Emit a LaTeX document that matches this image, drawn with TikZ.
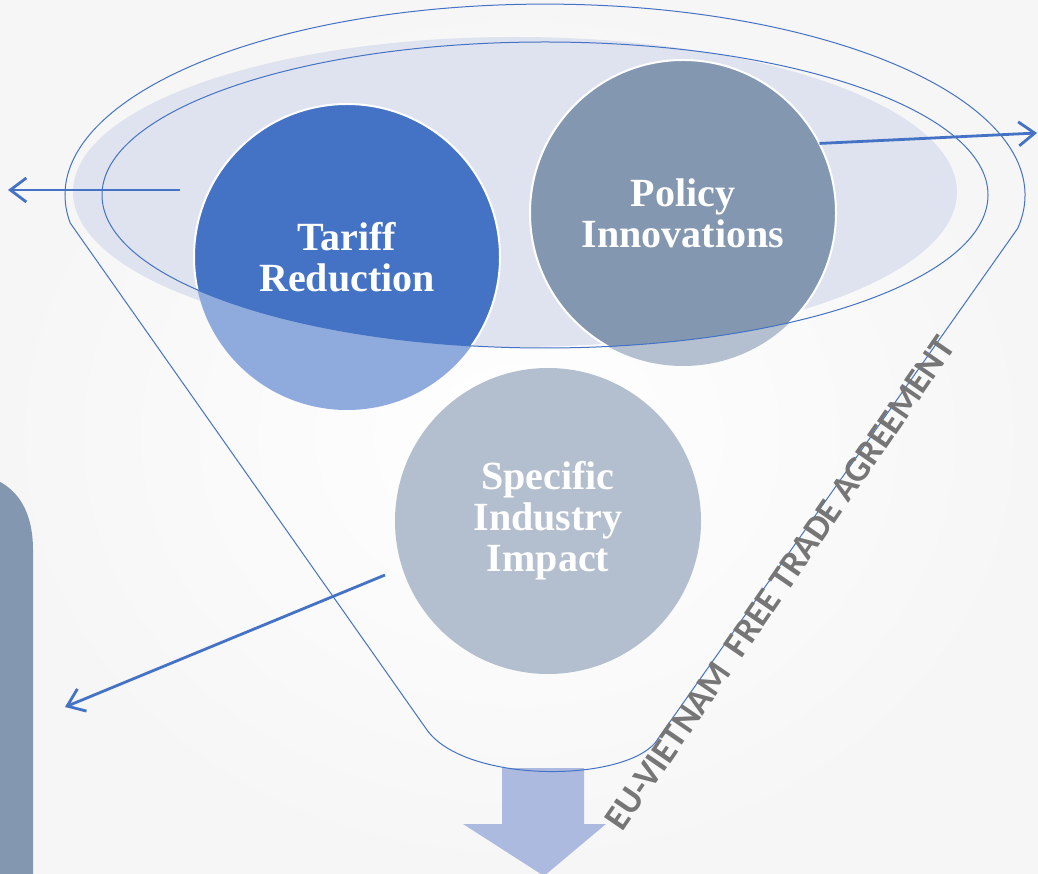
\documentclass[tikz,border=0pt]{standalone}
\usepackage{fontspec}
\setmainfont{Liberation Serif}
\newfontfamily\bannerfont{Carlito}
\usetikzlibrary{positioning}
\usetikzlibrary{arrows.meta}
\definecolor{funnelblue}{RGB}{68,114,196}
\definecolor{tariffdark}{RGB}{68,114,196}
\definecolor{tarifflight}{RGB}{143,170,220}
\definecolor{policydark}{RGB}{132,151,176}
\definecolor{policylight}{RGB}{180,192,207}
\definecolor{impactfill}{RGB}{179,191,206}
\definecolor{rimfill}{RGB}{223,227,239}
\definecolor{chutefill}{RGB}{173,186,223}
\definecolor{sidefill}{RGB}{132,151,176}
\definecolor{bannergray}{RGB}{118,118,118}

\begin{document}
\begin{tikzpicture}[x=1pt,y=1pt,
  stage/.style={circle,minimum size=306pt,inner sep=0pt,text=white,align=center,
    font=\fontsize{40}{41}\selectfont\bfseries},
  flow/.style={draw=funnelblue,line width=2.8pt,-{Straight Barb[length=16pt,width=24pt]}}]
\useasboundingbox (0,0) rectangle (1038,873);
\shade[inner color=white,outer color=gray!7] (0,0) rectangle (1038,873);

% rim of the funnel
\fill[rimfill] (515,681) ellipse (442 and 155);

% circles, lighter below the rim
\node[stage,fill=tarifflight] (tariff) at (347,616) {};
\node[stage,fill=policylight] (policy) at (683,660) {};
\node[stage,fill=impactfill] (impact) at (548,352) {Specific\\Industry\\Impact};
\begin{scope}
\clip (545,678) ellipse (443 and 153);
\fill[tariffdark,draw=white,line width=2pt] (tariff.center) circle (153);
\fill[policydark,draw=white,line width=2pt] (policy.center) circle (153);
\end{scope}
\node[stage] at (tariff.center) {Tariff\\Reduction};
\node[stage] at (policy.center) {Policy\\Innovations};

% chute below the funnel
\fill[chutefill] (502,105) -- (584,105) -- (584,49) -- (606,49) -- (544,-3) -- (463,49) -- (502,49) -- cycle;

% outlines
\draw[funnelblue,line width=1pt] (545,678) ellipse (443 and 153);
\draw[funnelblue,line width=1pt] (70.2,650) arc[start angle=188.4,end angle=-10,x radius=480,y radius=191]
  -- (655,130) .. controls (620,90) and (465,90) .. (427,143) -- cycle;

% side panel
\fill[sidefill] (-40,-10) -- (-40,400) .. controls (10,400) and (33,370) .. (33,323) -- (33,-10) -- cycle;

% arrows
\coordinate (tariffIn) at (180,683);
\coordinate (tariffOut) at (8,683);
\coordinate (policyOut) at (1037,740);
\coordinate (impactIn) at (385,298);
\coordinate (impactOut) at (65,166);
\draw[flow] (tariffIn) -- (tariffOut);
\draw[flow] (policy.27) -- (policyOut);
\draw[flow] (impactIn) -- (impactOut);

\node[rotate=55.5,text=bannergray,font=\bannerfont\bfseries\fontsize{36}{36}\selectfont] (banner) at (780,290) {EU-VIETNAM\ \ FREE TRADE AGREEMENT};

\end{tikzpicture}
\end{document}
